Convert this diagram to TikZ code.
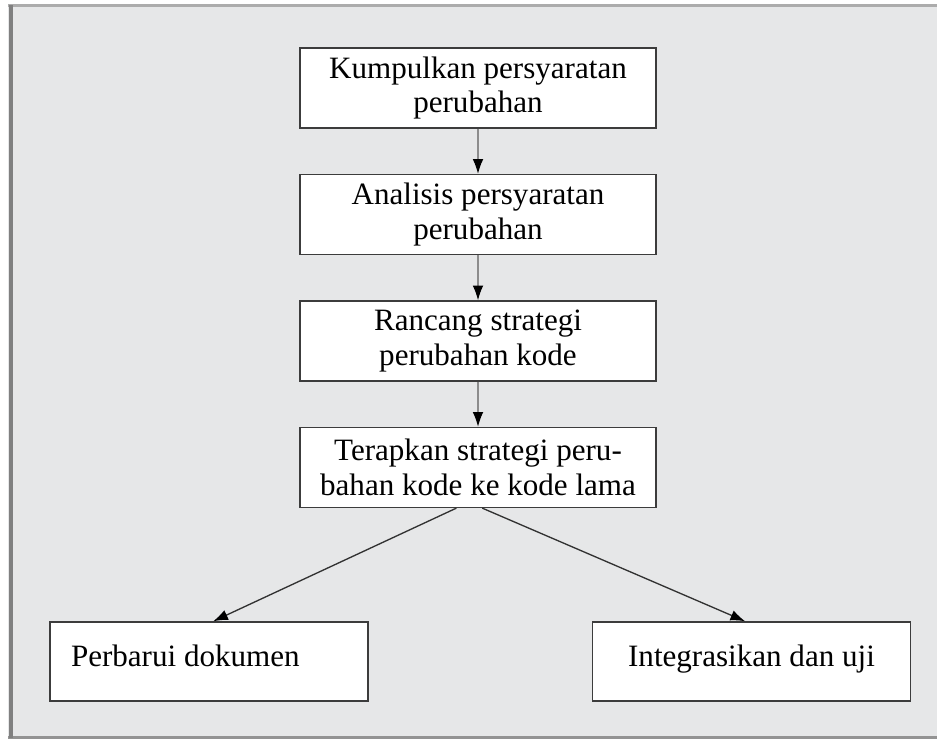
\documentclass[tikz,border=0pt]{standalone}
\usepackage{fontspec}
\setmainfont{Liberation Serif}
\usepackage{xcolor}
\usetikzlibrary{shapes,arrows.meta,positioning}
\definecolor{panelcolor}{RGB}{230,231,232}
\definecolor{boxedge}{RGB}{60,60,60}
\definecolor{linkgray}{RGB}{140,140,140}
\definecolor{diaggray}{RGB}{50,50,50}

\begin{document}
\begin{tikzpicture}[x=0.75pt,y=0.75pt,node distance=33.75pt,>={Latex[length=11pt,width=8pt,color=black]},every node/.style={font=\fontsize{23.3}{25.8}\selectfont},
  stepbox/.style={draw=boxedge,line width=1.1pt,fill=white,align=center,minimum width=267pt,minimum height=60pt,inner sep=0pt},
  leafbox/.style={draw=boxedge,line width=1.1pt,fill=white,minimum height=59.25pt,inner ysep=0pt,text height=16pt,text depth=9.2pt},
  vlink/.style={->,draw=linkgray,line width=0.8pt},
  dlink/.style={->,draw=diaggray,line width=1pt}]
\useasboundingbox (0,0) rectangle (937,740);
% grey panel with its frame
\fill[panelcolor] (8,2) rectangle (937,735);
\draw[line width=1.8pt,gray!65] (8,734.5) -- (937,734.5);
\draw[line width=1.6pt,gray!85] (8,2.5) -- (937,2.5);
\draw[line width=3pt,gray] (10.5,2) -- (10.5,735);
% steps
\node[stepbox](collect) at (478,652){Kumpulkan persyaratan\\perubahan};
\node[stepbox,below=of collect](analyze){Analisis persyaratan\\perubahan};
\node[stepbox,below=of analyze](design){Rancang strategi\\perubahan kode};
\node[stepbox,below=of design](apply){Terapkan strategi peru-\\bahan kode ke kode lama};
\node[leafbox,align=flush left,text width=207pt,inner xsep=15.75pt](docs) at (209,78.5){Perbarui dokumen};
\node[leafbox,align=center,minimum width=238.5pt,inner xsep=0pt](test) at (751.5,78.5){Integrasikan dan uji};
\draw[vlink](collect)--(analyze); \draw[vlink](analyze)--(design); \draw[vlink](design)--(apply);
\draw[dlink](apply.-118)--(docs.84); \draw[dlink](apply.-84)--(test.99);
\end{tikzpicture}
\end{document}
